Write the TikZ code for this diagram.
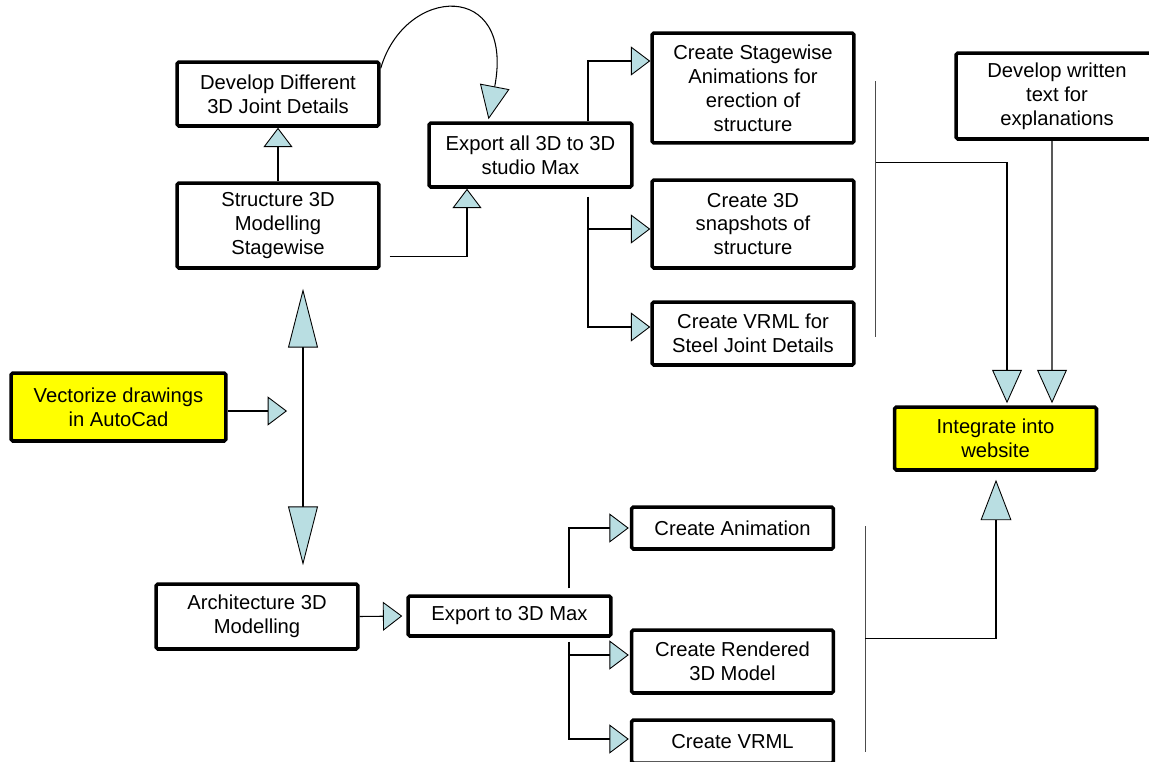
\documentclass[tikz,border=0pt]{standalone}
\usepackage{fontspec}
\setmainfont{Liberation Sans}
\usetikzlibrary{calc, positioning, arrows.meta}
\definecolor{tipfill}{RGB}{185,222,226}
\definecolor{boxyellow}{RGB}{255,255,0}

\begin{document}
\begin{tikzpicture}[x = 0.02cm, y = -0.02cm,
  box/.style = {draw, line width = 2pt, rounded corners = 1pt, align = center, inner sep = 1pt,
    minimum width = 4.04cm, font = \fontsize{11.5}{13.6}\selectfont},
  hl/.style = {box, fill = boxyellow},
  ln/.style = {line width = 0.6pt},
  brk/.style = {line width = 0.5pt, black!70},
  arrs/.style = {ln, -{Triangle[length = 11pt, width = 16.5pt, fill = tipfill, line width = 0.5pt]}},
  arrm/.style = {ln, -{Triangle[length = 19pt, width = 17pt, fill = tipfill, line width = 0.5pt]}},
  arrb/.style = {ln, -{Triangle[length = 23pt, width = 17.5pt, fill = tipfill, line width = 0.5pt]}},
  arrl/.style = {ln, {Triangle[length = 33.5pt, width = 17pt, fill = tipfill, line width = 0.5pt]}-{Triangle[length = 33.5pt, width = 17pt, fill = tipfill, line width = 0.5pt]}}]
\useasboundingbox (0,0) rectangle (1149,761);

\node[box, minimum height = 1.28cm] (dev3d) at (278,94) {Develop Different\\3D Joint Details};
\node[box, minimum height = 1.7cm] (struct) at (278,225.5) {Structure 3D\\Modelling\\Stagewise};
\node[box, minimum height = 1.28cm, minimum width = 4.06cm] (expall) at (530.5,155) {Export all 3D to 3D\\studio Max};
\node[box, minimum height = 2.2cm] (stgani) at (753,88) {Create Stagewise\\Animations for\\erection of\\structure};
\node[box, minimum height = 1.76cm] (snap) at (753,224) {Create 3D\\snapshots of\\structure};
\node[box, minimum height = 1.26cm] (vrmlj) at (753,333.5) {Create VRML for\\Steel Joint Details};
\node[box, minimum height = 1.72cm] (wtext) at (1057,96) {Develop written\\text for\\explanations};
\node[hl, minimum height = 1.26cm] (integ) at (995.5,438.5) {Integrate into\\website};
\node[hl, minimum height = 1.36cm, minimum width = 4.3cm] (vect) at (118.5,407) {Vectorize drawings\\in AutoCad};
\node[box, minimum height = 1.3cm] (arch) at (257,616.5) {Architecture 3D\\Modelling};
\node[box, minimum height = 0.8cm, minimum width = 4.06cm] (exp3d) at (509.5,616) {Export to 3D Max};
\node[box, minimum height = 0.84cm] (cani) at (732.5,528) {Create Animation};
\node[box, minimum height = 1.26cm] (crend) at (732.5,661.5) {Create Rendered\\3D Model};
\node[box, minimum height = 0.86cm] (cvrml) at (732.5,741.5) {Create VRML};

% structure part
\draw[arrs] (struct) -- (dev3d);
\draw[arrs] ([shift = {(9,-13)}]struct.south east) -| ([shift = {(-63.5,0)}]expall.south);
\draw[arrm] ([shift = {(0,8)}]dev3d.north east) .. controls (405,-15) and (515,-20) .. ([shift = {(-42,-2)}]expall.north);
\draw[arrs] ([shift = {(57.5,0)}]expall.north) |- ([shift = {(0,-27)}]stgani.west);
\foreach \n/\dy in {snap/5, vrmlj/-6.5}{
\draw[arrs] ([shift = {(57.5,8)}]expall.south) |- ([shift = {(0,\dy)}]\n.west);
}
\draw[brk] ([shift = {(20,50)}]stgani.north east) -- ([shift = {(20,-30)}]vrmlj.south east);
\draw[arrm] ([shift = {(20,131)}]stgani.north east) -| ([shift = {(11.5,-2)}]integ.north);
\draw[arrm] ([shift = {(-5,0)}]wtext.south) -- ([shift = {(56.5,-2)}]integ.north);

% drawings
\coordinate (vhit) at (287,411);
\draw[arrs] ([shift = {(0,4)}]vect.east) -- (vhit);
\draw[arrl] ([shift = {(25,19)}]struct.south) -- ([shift = {(46,-17)}]arch.north);

% architecture part
\draw[arrs] (arch.east) -- ([shift = {(-4,0)}]exp3d.west);
\draw[arrs] ([shift = {(59.5,-6)}]exp3d.north) |- ([shift = {(-1,0)}]cani.west);
\foreach \n/\dy in {crend/-6.5, cvrml/-2.5}{
\draw[arrs] ([shift = {(59.5,4)}]exp3d.south) |- ([shift = {(-1,\dy)}]\n.west);
}
\draw[brk] ([shift = {(30,21)}]cani.north east) -- ([shift = {(30,-13)}]cvrml.south east);
\draw[arrb] ([shift = {(30,133)}]cani.north east) -| ([shift = {(0.5,8)}]integ.south);
\end{tikzpicture}
\end{document}
